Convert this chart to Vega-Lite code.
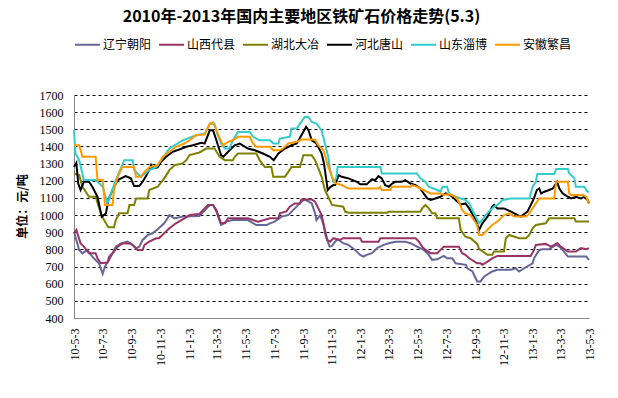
{
"$schema": "https://vega.github.io/schema/vega-lite/v6.json",
"width": 515, "height": 223,
"autosize": {"type": "none"},
"padding": {"left": 74, "top": 95, "right": 29, "bottom": 80},
"background": "white",
"title": {"text": "2010年-2013年国内主要地区铁矿石价格走势(5.3)", "font": "Noto Sans CJK SC", "fontSize": 16, "fontWeight": "bold", "color": "black", "anchor": "middle", "dx": -30, "offset": 6},
"config": {"view": {"stroke": null}},
"data": {"values": [
{"s":"辽宁朝阳","d":"2010-05-03","v":903},{"s":"辽宁朝阳","d":"2010-05-14","v":797},{"s":"辽宁朝阳","d":"2010-05-21","v":777},{"s":"辽宁朝阳","d":"2010-05-31","v":797},{"s":"辽宁朝阳","d":"2010-06-11","v":758},{"s":"辽宁朝阳","d":"2010-06-25","v":719},{"s":"辽宁朝阳","d":"2010-07-03","v":657},{"s":"辽宁朝阳","d":"2010-07-08","v":700},{"s":"辽宁朝阳","d":"2010-07-17","v":739},{"s":"辽宁朝阳","d":"2010-07-24","v":777},{"s":"辽宁朝阳","d":"2010-07-31","v":816},{"s":"辽宁朝阳","d":"2010-08-11","v":835},{"s":"辽宁朝阳","d":"2010-08-25","v":845},{"s":"辽宁朝阳","d":"2010-09-05","v":826},{"s":"辽宁朝阳","d":"2010-09-12","v":807},{"s":"辽宁朝阳","d":"2010-09-19","v":816},{"s":"辽宁朝阳","d":"2010-09-26","v":855},{"s":"辽宁朝阳","d":"2010-10-07","v":884},{"s":"辽宁朝阳","d":"2010-10-17","v":894},{"s":"辽宁朝阳","d":"2010-10-28","v":917},{"s":"辽宁朝阳","d":"2010-11-11","v":952},{"s":"辽宁朝阳","d":"2010-11-18","v":981},{"s":"辽宁朝阳","d":"2010-11-22","v":1000},{"s":"辽宁朝阳","d":"2010-12-03","v":981},{"s":"辽宁朝阳","d":"2010-12-20","v":991},{"s":"辽宁朝阳","d":"2011-01-25","v":995},{"s":"辽宁朝阳","d":"2011-02-16","v":1059},{"s":"辽宁朝阳","d":"2011-02-23","v":1059},{"s":"辽宁朝阳","d":"2011-03-02","v":1020},{"s":"辽宁朝阳","d":"2011-03-12","v":942},{"s":"辽宁朝阳","d":"2011-03-23","v":962},{"s":"辽宁朝阳","d":"2011-04-06","v":971},{"s":"辽宁朝阳","d":"2011-05-08","v":971},{"s":"辽宁朝阳","d":"2011-05-26","v":942},{"s":"辽宁朝阳","d":"2011-06-17","v":942},{"s":"辽宁朝阳","d":"2011-06-24","v":952},{"s":"辽宁朝阳","d":"2011-07-04","v":962},{"s":"辽宁朝阳","d":"2011-07-19","v":991},{"s":"辽宁朝阳","d":"2011-08-02","v":1000},{"s":"辽宁朝阳","d":"2011-08-16","v":1039},{"s":"辽宁朝阳","d":"2011-08-30","v":1078},{"s":"辽宁朝阳","d":"2011-09-06","v":1091},{"s":"辽宁朝阳","d":"2011-09-21","v":1068},{"s":"辽宁朝阳","d":"2011-09-28","v":1010},{"s":"辽宁朝阳","d":"2011-10-01","v":971},{"s":"辽宁朝阳","d":"2011-10-09","v":1000},{"s":"辽宁朝阳","d":"2011-10-16","v":942},{"s":"辽宁朝阳","d":"2011-10-21","v":874},{"s":"辽宁朝阳","d":"2011-10-29","v":816},{"s":"辽宁朝阳","d":"2011-11-03","v":820},{"s":"辽宁朝阳","d":"2011-11-10","v":845},{"s":"辽宁朝阳","d":"2011-11-15","v":859},{"s":"辽宁朝阳","d":"2011-11-27","v":836},{"s":"辽宁朝阳","d":"2011-12-08","v":826},{"s":"辽宁朝阳","d":"2011-12-22","v":797},{"s":"辽宁朝阳","d":"2012-01-02","v":768},{"s":"辽宁朝阳","d":"2012-01-09","v":758},{"s":"辽宁朝阳","d":"2012-01-16","v":768},{"s":"辽宁朝阳","d":"2012-01-27","v":778},{"s":"辽宁朝阳","d":"2012-02-07","v":807},{"s":"辽宁朝阳","d":"2012-02-21","v":826},{"s":"辽宁朝阳","d":"2012-03-03","v":836},{"s":"辽宁朝阳","d":"2012-03-17","v":845},{"s":"辽宁朝阳","d":"2012-04-07","v":845},{"s":"辽宁朝阳","d":"2012-04-18","v":836},{"s":"辽宁朝阳","d":"2012-05-02","v":816},{"s":"辽宁朝阳","d":"2012-05-16","v":797},{"s":"辽宁朝阳","d":"2012-05-27","v":768},{"s":"辽宁朝阳","d":"2012-06-03","v":739},{"s":"辽宁朝阳","d":"2012-06-14","v":742},{"s":"辽宁朝阳","d":"2012-06-28","v":762},{"s":"辽宁朝阳","d":"2012-07-05","v":748},{"s":"辽宁朝阳","d":"2012-07-16","v":748},{"s":"辽宁朝阳","d":"2012-07-23","v":719},{"s":"辽宁朝阳","d":"2012-08-14","v":710},{"s":"辽宁朝阳","d":"2012-08-17","v":690},{"s":"辽宁朝阳","d":"2012-08-28","v":671},{"s":"辽宁朝阳","d":"2012-09-07","v":613},{"s":"辽宁朝阳","d":"2012-09-14","v":613},{"s":"辽宁朝阳","d":"2012-09-22","v":642},{"s":"辽宁朝阳","d":"2012-10-09","v":671},{"s":"辽宁朝阳","d":"2012-10-20","v":681},{"s":"辽宁朝阳","d":"2012-11-18","v":681},{"s":"辽宁朝阳","d":"2012-11-28","v":690},{"s":"辽宁朝阳","d":"2012-12-05","v":671},{"s":"辽宁朝阳","d":"2012-12-16","v":690},{"s":"辽宁朝阳","d":"2013-01-03","v":719},{"s":"辽宁朝阳","d":"2013-01-06","v":748},{"s":"辽宁朝阳","d":"2013-01-17","v":797},{"s":"辽宁朝阳","d":"2013-01-24","v":801},{"s":"辽宁朝阳","d":"2013-02-07","v":801},{"s":"辽宁朝阳","d":"2013-02-22","v":826},{"s":"辽宁朝阳","d":"2013-03-01","v":816},{"s":"辽宁朝阳","d":"2013-03-08","v":797},{"s":"辽宁朝阳","d":"2013-03-19","v":758},{"s":"辽宁朝阳","d":"2013-04-27","v":758},{"s":"辽宁朝阳","d":"2013-05-03","v":739},
{"s":"山西代县","d":"2010-05-03","v":894},{"s":"山西代县","d":"2010-05-08","v":913},{"s":"山西代县","d":"2010-05-17","v":835},{"s":"山西代县","d":"2010-05-24","v":816},{"s":"山西代县","d":"2010-06-04","v":777},{"s":"山西代县","d":"2010-06-18","v":777},{"s":"山西代县","d":"2010-06-22","v":748},{"s":"山西代县","d":"2010-06-29","v":719},{"s":"山西代县","d":"2010-07-13","v":723},{"s":"山西代县","d":"2010-07-17","v":758},{"s":"山西代县","d":"2010-07-27","v":787},{"s":"山西代县","d":"2010-08-04","v":816},{"s":"山西代县","d":"2010-08-14","v":835},{"s":"山西代县","d":"2010-09-01","v":835},{"s":"山西代县","d":"2010-09-08","v":816},{"s":"山西代县","d":"2010-09-15","v":797},{"s":"山西代县","d":"2010-09-26","v":797},{"s":"山西代县","d":"2010-09-30","v":826},{"s":"山西代县","d":"2010-10-10","v":845},{"s":"山西代县","d":"2010-10-25","v":865},{"s":"山西代县","d":"2010-10-31","v":865},{"s":"山西代县","d":"2010-11-11","v":894},{"s":"山西代县","d":"2010-11-22","v":923},{"s":"山西代县","d":"2010-12-06","v":952},{"s":"山西代县","d":"2010-12-24","v":981},{"s":"山西代县","d":"2011-01-04","v":1000},{"s":"山西代县","d":"2011-01-25","v":1006},{"s":"山西代县","d":"2011-02-12","v":1059},{"s":"山西代县","d":"2011-02-23","v":1059},{"s":"山西代县","d":"2011-03-02","v":1030},{"s":"山西代县","d":"2011-03-12","v":952},{"s":"山西代县","d":"2011-03-20","v":952},{"s":"山西代县","d":"2011-03-27","v":981},{"s":"山西代县","d":"2011-05-08","v":981},{"s":"山西代县","d":"2011-05-19","v":971},{"s":"山西代县","d":"2011-05-30","v":962},{"s":"山西代县","d":"2011-06-24","v":981},{"s":"山西代县","d":"2011-07-12","v":981},{"s":"山西代县","d":"2011-07-15","v":1010},{"s":"山西代县","d":"2011-07-29","v":1021},{"s":"山西代县","d":"2011-08-05","v":1049},{"s":"山西代县","d":"2011-08-16","v":1068},{"s":"山西代县","d":"2011-08-27","v":1068},{"s":"山西代县","d":"2011-08-30","v":1091},{"s":"山西代县","d":"2011-09-21","v":1091},{"s":"山西代县","d":"2011-09-28","v":1078},{"s":"山西代县","d":"2011-10-05","v":1039},{"s":"山西代县","d":"2011-10-12","v":1000},{"s":"山西代县","d":"2011-10-19","v":913},{"s":"山西代县","d":"2011-10-24","v":855},{"s":"山西代县","d":"2011-10-30","v":845},{"s":"山西代县","d":"2011-11-06","v":865},{"s":"山西代县","d":"2011-11-20","v":855},{"s":"山西代县","d":"2011-11-27","v":865},{"s":"山西代县","d":"2012-01-02","v":865},{"s":"山西代县","d":"2012-01-06","v":845},{"s":"山西代县","d":"2012-02-10","v":845},{"s":"山西代县","d":"2012-02-14","v":865},{"s":"山西代县","d":"2012-04-29","v":865},{"s":"山西代县","d":"2012-05-06","v":845},{"s":"山西代县","d":"2012-05-13","v":816},{"s":"山西代县","d":"2012-05-20","v":797},{"s":"山西代县","d":"2012-05-31","v":778},{"s":"山西代县","d":"2012-06-14","v":778},{"s":"山西代县","d":"2012-06-21","v":797},{"s":"山西代县","d":"2012-06-28","v":816},{"s":"山西代县","d":"2012-07-30","v":816},{"s":"山西代县","d":"2012-08-06","v":778},{"s":"山西代县","d":"2012-08-13","v":768},{"s":"山西代县","d":"2012-08-21","v":748},{"s":"山西代县","d":"2012-09-07","v":719},{"s":"山西代县","d":"2012-09-14","v":719},{"s":"山西代县","d":"2012-09-18","v":710},{"s":"山西代县","d":"2012-09-29","v":729},{"s":"山西代县","d":"2012-10-09","v":748},{"s":"山西代县","d":"2012-10-20","v":762},{"s":"山西代县","d":"2012-12-30","v":762},{"s":"山西代县","d":"2013-01-06","v":797},{"s":"山西代县","d":"2013-01-10","v":826},{"s":"山西代县","d":"2013-01-31","v":832},{"s":"山西代县","d":"2013-02-11","v":816},{"s":"山西代县","d":"2013-02-25","v":836},{"s":"山西代县","d":"2013-03-04","v":816},{"s":"山西代县","d":"2013-03-19","v":787},{"s":"山西代县","d":"2013-04-05","v":787},{"s":"山西代县","d":"2013-04-16","v":807},{"s":"山西代县","d":"2013-04-27","v":801},{"s":"山西代县","d":"2013-05-03","v":807},
{"s":"湖北大冶","d":"2010-05-03","v":1243},{"s":"湖北大冶","d":"2010-05-14","v":1233},{"s":"湖北大冶","d":"2010-05-21","v":1165},{"s":"湖北大冶","d":"2010-06-04","v":1107},{"s":"湖北大冶","d":"2010-06-18","v":1107},{"s":"湖北大冶","d":"2010-06-29","v":1010},{"s":"湖北大冶","d":"2010-07-06","v":971},{"s":"湖北大冶","d":"2010-07-15","v":929},{"s":"湖北大冶","d":"2010-07-27","v":929},{"s":"湖北大冶","d":"2010-07-31","v":971},{"s":"湖北大冶","d":"2010-08-07","v":1010},{"s":"湖北大冶","d":"2010-08-25","v":1010},{"s":"湖北大冶","d":"2010-08-29","v":1059},{"s":"湖北大冶","d":"2010-09-08","v":1059},{"s":"湖北大冶","d":"2010-09-12","v":1097},{"s":"湖北大冶","d":"2010-10-07","v":1097},{"s":"湖北大冶","d":"2010-10-10","v":1146},{"s":"湖北大冶","d":"2010-10-28","v":1165},{"s":"湖北大冶","d":"2010-11-11","v":1214},{"s":"湖北大冶","d":"2010-11-22","v":1262},{"s":"湖北大冶","d":"2010-12-03","v":1291},{"s":"湖北大冶","d":"2010-12-20","v":1301},{"s":"湖北大冶","d":"2010-12-28","v":1320},{"s":"湖北大冶","d":"2011-01-04","v":1350},{"s":"湖北大冶","d":"2011-01-25","v":1365},{"s":"湖北大冶","d":"2011-02-08","v":1388},{"s":"湖北大冶","d":"2011-02-26","v":1388},{"s":"湖北大冶","d":"2011-03-09","v":1340},{"s":"湖北大冶","d":"2011-03-20","v":1320},{"s":"湖北大冶","d":"2011-04-06","v":1320},{"s":"湖北大冶","d":"2011-04-10","v":1340},{"s":"湖北大冶","d":"2011-04-17","v":1359},{"s":"湖北大冶","d":"2011-05-26","v":1359},{"s":"湖北大冶","d":"2011-06-02","v":1320},{"s":"湖北大冶","d":"2011-06-13","v":1281},{"s":"湖北大冶","d":"2011-06-27","v":1281},{"s":"湖北大冶","d":"2011-07-01","v":1223},{"s":"湖北大冶","d":"2011-07-26","v":1223},{"s":"湖北大冶","d":"2011-08-02","v":1252},{"s":"湖北大冶","d":"2011-08-09","v":1281},{"s":"湖北大冶","d":"2011-08-27","v":1281},{"s":"湖北大冶","d":"2011-09-03","v":1349},{"s":"湖北大冶","d":"2011-09-21","v":1349},{"s":"湖北大冶","d":"2011-09-28","v":1320},{"s":"湖北大冶","d":"2011-10-05","v":1272},{"s":"湖北大冶","d":"2011-10-12","v":1223},{"s":"湖北大冶","d":"2011-10-19","v":1146},{"s":"湖北大冶","d":"2011-10-26","v":1107},{"s":"湖北大冶","d":"2011-11-03","v":1059},{"s":"湖北大冶","d":"2011-11-27","v":1049},{"s":"湖北大冶","d":"2011-12-01","v":1020},{"s":"湖北大冶","d":"2011-12-08","v":1014},{"s":"湖北大冶","d":"2012-02-28","v":1014},{"s":"湖北大冶","d":"2012-03-03","v":1020},{"s":"湖北大冶","d":"2012-05-09","v":1020},{"s":"湖北大冶","d":"2012-05-13","v":1039},{"s":"湖北大冶","d":"2012-05-20","v":1059},{"s":"湖北大冶","d":"2012-05-27","v":1039},{"s":"湖北大冶","d":"2012-06-03","v":1010},{"s":"湖北大冶","d":"2012-06-10","v":1010},{"s":"湖北大冶","d":"2012-06-14","v":981},{"s":"湖北大冶","d":"2012-07-30","v":981},{"s":"湖北大冶","d":"2012-08-03","v":913},{"s":"湖北大冶","d":"2012-08-13","v":874},{"s":"湖北大冶","d":"2012-08-24","v":865},{"s":"湖北大冶","d":"2012-09-07","v":832},{"s":"湖北大冶","d":"2012-09-11","v":803},{"s":"湖北大冶","d":"2012-09-29","v":768},{"s":"湖北大冶","d":"2012-10-09","v":768},{"s":"湖北大冶","d":"2012-10-13","v":787},{"s":"湖北大冶","d":"2012-11-03","v":787},{"s":"湖北大冶","d":"2012-11-07","v":865},{"s":"湖北大冶","d":"2012-11-14","v":884},{"s":"湖北大冶","d":"2012-12-05","v":865},{"s":"湖北大冶","d":"2012-12-20","v":865},{"s":"湖北大冶","d":"2012-12-27","v":884},{"s":"湖北大冶","d":"2013-01-03","v":923},{"s":"湖北大冶","d":"2013-01-10","v":942},{"s":"湖北大冶","d":"2013-01-31","v":952},{"s":"湖北大冶","d":"2013-02-07","v":981},{"s":"湖北大冶","d":"2013-04-02","v":981},{"s":"湖北大冶","d":"2013-04-05","v":962},{"s":"湖北大冶","d":"2013-05-03","v":962},
{"s":"河北唐山","d":"2010-05-03","v":1281},{"s":"河北唐山","d":"2010-05-08","v":1305},{"s":"河北唐山","d":"2010-05-12","v":1184},{"s":"河北唐山","d":"2010-05-17","v":1146},{"s":"河北唐山","d":"2010-05-24","v":1194},{"s":"河北唐山","d":"2010-06-04","v":1194},{"s":"河北唐山","d":"2010-06-11","v":1165},{"s":"河北唐山","d":"2010-06-22","v":1107},{"s":"河北唐山","d":"2010-06-25","v":1068},{"s":"河北唐山","d":"2010-07-01","v":991},{"s":"河北唐山","d":"2010-07-10","v":1010},{"s":"河北唐山","d":"2010-07-15","v":1088},{"s":"河北唐山","d":"2010-07-24","v":1146},{"s":"河北唐山","d":"2010-08-04","v":1204},{"s":"河北唐山","d":"2010-08-21","v":1227},{"s":"河北唐山","d":"2010-09-01","v":1214},{"s":"河北唐山","d":"2010-09-08","v":1169},{"s":"河北唐山","d":"2010-09-19","v":1169},{"s":"河北唐山","d":"2010-09-26","v":1194},{"s":"河北唐山","d":"2010-10-03","v":1227},{"s":"河北唐山","d":"2010-10-10","v":1262},{"s":"河北唐山","d":"2010-10-14","v":1291},{"s":"河北唐山","d":"2010-10-17","v":1272},{"s":"河北唐山","d":"2010-10-28","v":1278},{"s":"河北唐山","d":"2010-11-04","v":1310},{"s":"河北唐山","d":"2010-11-15","v":1340},{"s":"河北唐山","d":"2010-11-29","v":1369},{"s":"河北唐山","d":"2010-12-13","v":1382},{"s":"河北唐山","d":"2010-12-28","v":1398},{"s":"河北唐山","d":"2011-01-11","v":1407},{"s":"河北唐山","d":"2011-01-29","v":1421},{"s":"河北唐山","d":"2011-02-05","v":1417},{"s":"河北唐山","d":"2011-02-16","v":1494},{"s":"河北唐山","d":"2011-02-23","v":1494},{"s":"河北唐山","d":"2011-03-02","v":1436},{"s":"河北唐山","d":"2011-03-12","v":1349},{"s":"河北唐山","d":"2011-03-17","v":1340},{"s":"河北唐山","d":"2011-03-27","v":1369},{"s":"河北唐山","d":"2011-04-10","v":1407},{"s":"河北唐山","d":"2011-04-21","v":1417},{"s":"河北唐山","d":"2011-05-08","v":1388},{"s":"河北唐山","d":"2011-05-23","v":1378},{"s":"河北唐山","d":"2011-06-09","v":1359},{"s":"河北唐山","d":"2011-06-24","v":1340},{"s":"河北唐山","d":"2011-07-02","v":1320},{"s":"河北唐山","d":"2011-07-12","v":1359},{"s":"河北唐山","d":"2011-07-26","v":1388},{"s":"河北唐山","d":"2011-08-09","v":1407},{"s":"河北唐山","d":"2011-08-20","v":1417},{"s":"河北唐山","d":"2011-08-30","v":1466},{"s":"河北唐山","d":"2011-09-09","v":1514},{"s":"河北唐山","d":"2011-09-14","v":1495},{"s":"河北唐山","d":"2011-09-21","v":1436},{"s":"河北唐山","d":"2011-10-01","v":1417},{"s":"河北唐山","d":"2011-10-12","v":1359},{"s":"河北唐山","d":"2011-10-17","v":1301},{"s":"河北唐山","d":"2011-10-25","v":1146},{"s":"河北唐山","d":"2011-10-31","v":1165},{"s":"河北唐山","d":"2011-11-06","v":1175},{"s":"河北唐山","d":"2011-11-10","v":1175},{"s":"河北唐山","d":"2011-11-17","v":1233},{"s":"河北唐山","d":"2011-11-24","v":1223},{"s":"河北唐山","d":"2011-12-08","v":1214},{"s":"河北唐山","d":"2011-12-26","v":1194},{"s":"河北唐山","d":"2012-01-02","v":1179},{"s":"河北唐山","d":"2012-01-16","v":1179},{"s":"河北唐山","d":"2012-01-27","v":1208},{"s":"河北唐山","d":"2012-02-03","v":1204},{"s":"河北唐山","d":"2012-02-10","v":1227},{"s":"河北唐山","d":"2012-02-17","v":1214},{"s":"河北唐山","d":"2012-02-24","v":1175},{"s":"河北唐山","d":"2012-03-03","v":1165},{"s":"河北唐山","d":"2012-03-10","v":1184},{"s":"河北唐山","d":"2012-03-17","v":1194},{"s":"河北唐山","d":"2012-03-31","v":1194},{"s":"河北唐山","d":"2012-04-07","v":1204},{"s":"河北唐山","d":"2012-04-18","v":1184},{"s":"河北唐山","d":"2012-04-29","v":1175},{"s":"河北唐山","d":"2012-05-09","v":1155},{"s":"河北唐山","d":"2012-05-16","v":1126},{"s":"河北唐山","d":"2012-05-24","v":1097},{"s":"河北唐山","d":"2012-05-31","v":1088},{"s":"河北唐山","d":"2012-06-10","v":1097},{"s":"河北唐山","d":"2012-06-21","v":1107},{"s":"河北唐山","d":"2012-07-02","v":1126},{"s":"河北唐山","d":"2012-07-12","v":1117},{"s":"河北唐山","d":"2012-07-23","v":1088},{"s":"河北唐山","d":"2012-08-03","v":1062},{"s":"河北唐山","d":"2012-08-13","v":1068},{"s":"河北唐山","d":"2012-08-21","v":1039},{"s":"河北唐山","d":"2012-08-28","v":1005},{"s":"河北唐山","d":"2012-09-04","v":971},{"s":"河北唐山","d":"2012-09-11","v":913},{"s":"河北唐山","d":"2012-09-18","v":952},{"s":"河北唐山","d":"2012-09-29","v":991},{"s":"河北唐山","d":"2012-10-09","v":1049},{"s":"河北唐山","d":"2012-10-13","v":1059},{"s":"河北唐山","d":"2012-10-20","v":1039},{"s":"河北唐山","d":"2012-11-03","v":1039},{"s":"河北唐山","d":"2012-11-18","v":1020},{"s":"河北唐山","d":"2012-12-02","v":1000},{"s":"河北唐山","d":"2012-12-09","v":991},{"s":"河北唐山","d":"2012-12-16","v":1006},{"s":"河北唐山","d":"2012-12-23","v":1020},{"s":"河北唐山","d":"2012-12-30","v":1059},{"s":"河北唐山","d":"2013-01-06","v":1097},{"s":"河北唐山","d":"2013-01-12","v":1146},{"s":"河北唐山","d":"2013-01-17","v":1155},{"s":"河北唐山","d":"2013-01-21","v":1126},{"s":"河北唐山","d":"2013-01-28","v":1136},{"s":"河北唐山","d":"2013-02-07","v":1146},{"s":"河北唐山","d":"2013-02-15","v":1155},{"s":"河北唐山","d":"2013-02-24","v":1194},{"s":"河北唐山","d":"2013-03-01","v":1155},{"s":"河北唐山","d":"2013-03-08","v":1126},{"s":"河北唐山","d":"2013-03-19","v":1107},{"s":"河北唐山","d":"2013-03-26","v":1097},{"s":"河北唐山","d":"2013-04-05","v":1107},{"s":"河北唐山","d":"2013-04-16","v":1097},{"s":"河北唐山","d":"2013-04-23","v":1107},{"s":"河北唐山","d":"2013-04-30","v":1088},{"s":"河北唐山","d":"2013-05-03","v":1068},
{"s":"山东淄博","d":"2010-05-03","v":1495},{"s":"山东淄博","d":"2010-05-06","v":1360},{"s":"山东淄博","d":"2010-05-14","v":1320},{"s":"山东淄博","d":"2010-05-24","v":1204},{"s":"山东淄博","d":"2010-06-18","v":1204},{"s":"山东淄博","d":"2010-07-03","v":1165},{"s":"山东淄博","d":"2010-07-13","v":1068},{"s":"山东淄博","d":"2010-07-31","v":1204},{"s":"山东淄博","d":"2010-08-18","v":1320},{"s":"山东淄博","d":"2010-09-05","v":1320},{"s":"山东淄博","d":"2010-09-08","v":1262},{"s":"山东淄博","d":"2010-09-22","v":1223},{"s":"山东淄博","d":"2010-10-10","v":1262},{"s":"山东淄博","d":"2010-10-25","v":1281},{"s":"山东淄博","d":"2010-11-22","v":1388},{"s":"山东淄博","d":"2010-12-20","v":1436},{"s":"山东淄博","d":"2011-01-18","v":1465},{"s":"山东淄博","d":"2011-02-05","v":1475},{"s":"山东淄博","d":"2011-02-16","v":1533},{"s":"山东淄博","d":"2011-02-26","v":1533},{"s":"山东淄博","d":"2011-03-05","v":1465},{"s":"山东淄博","d":"2011-03-12","v":1417},{"s":"山东淄博","d":"2011-03-20","v":1388},{"s":"山东淄博","d":"2011-03-30","v":1388},{"s":"山东淄博","d":"2011-04-06","v":1436},{"s":"山东淄博","d":"2011-04-17","v":1485},{"s":"山东淄博","d":"2011-05-12","v":1485},{"s":"山东淄博","d":"2011-05-19","v":1456},{"s":"山东淄博","d":"2011-06-02","v":1436},{"s":"山东淄博","d":"2011-06-24","v":1436},{"s":"山东淄博","d":"2011-07-01","v":1417},{"s":"山东淄博","d":"2011-07-12","v":1417},{"s":"山东淄博","d":"2011-07-15","v":1446},{"s":"山东淄博","d":"2011-08-05","v":1456},{"s":"山东淄博","d":"2011-08-09","v":1504},{"s":"山东淄博","d":"2011-08-20","v":1504},{"s":"山东淄博","d":"2011-08-27","v":1533},{"s":"山东淄博","d":"2011-09-06","v":1572},{"s":"山东淄博","d":"2011-09-14","v":1572},{"s":"山东淄博","d":"2011-09-21","v":1543},{"s":"山东淄博","d":"2011-10-01","v":1533},{"s":"山东淄博","d":"2011-10-12","v":1494},{"s":"山东淄博","d":"2011-10-19","v":1417},{"s":"山东淄博","d":"2011-10-26","v":1340},{"s":"山东淄博","d":"2011-10-30","v":1262},{"s":"山东淄博","d":"2011-11-06","v":1194},{"s":"山东淄博","d":"2011-11-12","v":1214},{"s":"山东淄博","d":"2011-11-15","v":1281},{"s":"山东淄博","d":"2012-02-14","v":1281},{"s":"山东淄博","d":"2012-02-17","v":1243},{"s":"山东淄博","d":"2012-05-02","v":1243},{"s":"山东淄博","d":"2012-05-09","v":1214},{"s":"山东淄博","d":"2012-05-20","v":1194},{"s":"山东淄博","d":"2012-05-27","v":1165},{"s":"山东淄博","d":"2012-06-14","v":1146},{"s":"山东淄博","d":"2012-06-21","v":1136},{"s":"山东淄博","d":"2012-06-25","v":1165},{"s":"山东淄博","d":"2012-07-05","v":1165},{"s":"山东淄博","d":"2012-07-09","v":1126},{"s":"山东淄博","d":"2012-07-23","v":1107},{"s":"山东淄博","d":"2012-08-03","v":1097},{"s":"山东淄博","d":"2012-08-13","v":1088},{"s":"山东淄博","d":"2012-08-21","v":1068},{"s":"山东淄博","d":"2012-08-28","v":1030},{"s":"山东淄博","d":"2012-09-04","v":991},{"s":"山东淄博","d":"2012-09-11","v":952},{"s":"山东淄博","d":"2012-09-18","v":971},{"s":"山东淄博","d":"2012-09-25","v":1000},{"s":"山东淄博","d":"2012-10-02","v":1020},{"s":"山东淄博","d":"2012-10-13","v":1049},{"s":"山东淄博","d":"2012-10-20","v":1059},{"s":"山东淄博","d":"2012-10-31","v":1088},{"s":"山东淄博","d":"2012-11-18","v":1097},{"s":"山东淄博","d":"2012-12-27","v":1097},{"s":"山东淄博","d":"2012-12-30","v":1126},{"s":"山东淄博","d":"2013-01-03","v":1165},{"s":"山东淄博","d":"2013-01-10","v":1194},{"s":"山东淄博","d":"2013-01-13","v":1239},{"s":"山东淄博","d":"2013-02-18","v":1239},{"s":"山东淄博","d":"2013-02-22","v":1268},{"s":"山东淄博","d":"2013-03-19","v":1268},{"s":"山东淄博","d":"2013-03-22","v":1243},{"s":"山东淄博","d":"2013-04-02","v":1214},{"s":"山东淄博","d":"2013-04-05","v":1165},{"s":"山东淄博","d":"2013-04-23","v":1165},{"s":"山东淄博","d":"2013-04-30","v":1136},{"s":"山东淄博","d":"2013-05-03","v":1136},
{"s":"安徽繁昌","d":"2010-05-03","v":1407},{"s":"安徽繁昌","d":"2010-05-14","v":1407},{"s":"安徽繁昌","d":"2010-05-21","v":1340},{"s":"安徽繁昌","d":"2010-06-18","v":1340},{"s":"安徽繁昌","d":"2010-06-22","v":1204},{"s":"安徽繁昌","d":"2010-07-03","v":1204},{"s":"安徽繁昌","d":"2010-07-08","v":1059},{"s":"安徽繁昌","d":"2010-07-24","v":1059},{"s":"安徽繁昌","d":"2010-07-27","v":1146},{"s":"安徽繁昌","d":"2010-08-04","v":1223},{"s":"安徽繁昌","d":"2010-08-14","v":1281},{"s":"安徽繁昌","d":"2010-09-08","v":1281},{"s":"安徽繁昌","d":"2010-09-12","v":1223},{"s":"安徽繁昌","d":"2010-09-22","v":1223},{"s":"安徽繁昌","d":"2010-09-30","v":1252},{"s":"安徽繁昌","d":"2010-10-10","v":1278},{"s":"安徽繁昌","d":"2010-10-28","v":1291},{"s":"安徽繁昌","d":"2010-11-08","v":1340},{"s":"安徽繁昌","d":"2010-11-22","v":1369},{"s":"安徽繁昌","d":"2010-12-06","v":1398},{"s":"安徽繁昌","d":"2010-12-24","v":1417},{"s":"安徽繁昌","d":"2011-01-04","v":1436},{"s":"安徽繁昌","d":"2011-01-18","v":1465},{"s":"安徽繁昌","d":"2011-02-05","v":1470},{"s":"安徽繁昌","d":"2011-02-16","v":1533},{"s":"安徽繁昌","d":"2011-02-23","v":1540},{"s":"安徽繁昌","d":"2011-03-05","v":1475},{"s":"安徽繁昌","d":"2011-03-16","v":1407},{"s":"安徽繁昌","d":"2011-03-27","v":1427},{"s":"安徽繁昌","d":"2011-04-06","v":1436},{"s":"安徽繁昌","d":"2011-04-17","v":1456},{"s":"安徽繁昌","d":"2011-05-12","v":1456},{"s":"安徽繁昌","d":"2011-05-19","v":1417},{"s":"安徽繁昌","d":"2011-05-26","v":1398},{"s":"安徽繁昌","d":"2011-06-24","v":1398},{"s":"安徽繁昌","d":"2011-07-01","v":1378},{"s":"安徽繁昌","d":"2011-07-15","v":1378},{"s":"安徽繁昌","d":"2011-07-22","v":1388},{"s":"安徽繁昌","d":"2011-08-02","v":1417},{"s":"安徽繁昌","d":"2011-08-20","v":1427},{"s":"安徽繁昌","d":"2011-08-30","v":1440},{"s":"安徽繁昌","d":"2011-09-28","v":1440},{"s":"安徽繁昌","d":"2011-10-05","v":1407},{"s":"安徽繁昌","d":"2011-10-16","v":1378},{"s":"安徽繁昌","d":"2011-10-26","v":1281},{"s":"安徽繁昌","d":"2011-11-06","v":1204},{"s":"安徽繁昌","d":"2011-11-12","v":1184},{"s":"安徽繁昌","d":"2011-11-24","v":1175},{"s":"安徽繁昌","d":"2011-12-01","v":1165},{"s":"安徽繁昌","d":"2011-12-08","v":1155},{"s":"安徽繁昌","d":"2012-02-10","v":1155},{"s":"安徽繁昌","d":"2012-02-14","v":1165},{"s":"安徽繁昌","d":"2012-02-17","v":1146},{"s":"安徽繁昌","d":"2012-03-06","v":1146},{"s":"安徽繁昌","d":"2012-03-10","v":1165},{"s":"安徽繁昌","d":"2012-04-18","v":1165},{"s":"安徽繁昌","d":"2012-04-21","v":1175},{"s":"安徽繁昌","d":"2012-05-02","v":1165},{"s":"安徽繁昌","d":"2012-05-09","v":1155},{"s":"安徽繁昌","d":"2012-05-16","v":1146},{"s":"安徽繁昌","d":"2012-05-31","v":1126},{"s":"安徽繁昌","d":"2012-06-21","v":1126},{"s":"安徽繁昌","d":"2012-06-28","v":1117},{"s":"安徽繁昌","d":"2012-07-09","v":1122},{"s":"安徽繁昌","d":"2012-07-23","v":1107},{"s":"安徽繁昌","d":"2012-07-30","v":1078},{"s":"安徽繁昌","d":"2012-08-06","v":1030},{"s":"安徽繁昌","d":"2012-08-13","v":1010},{"s":"安徽繁昌","d":"2012-08-24","v":1000},{"s":"安徽繁昌","d":"2012-08-31","v":971},{"s":"安徽繁昌","d":"2012-09-07","v":942},{"s":"安徽繁昌","d":"2012-09-11","v":884},{"s":"安徽繁昌","d":"2012-09-18","v":884},{"s":"安徽繁昌","d":"2012-09-25","v":903},{"s":"安徽繁昌","d":"2012-10-02","v":923},{"s":"安徽繁昌","d":"2012-10-09","v":942},{"s":"安徽繁昌","d":"2012-10-20","v":962},{"s":"安徽繁昌","d":"2012-10-27","v":981},{"s":"安徽繁昌","d":"2012-11-03","v":1000},{"s":"安徽繁昌","d":"2012-11-14","v":1010},{"s":"安徽繁昌","d":"2012-11-25","v":991},{"s":"安徽繁昌","d":"2012-12-20","v":991},{"s":"安徽繁昌","d":"2012-12-27","v":1010},{"s":"安徽繁昌","d":"2013-01-03","v":1040},{"s":"安徽繁昌","d":"2013-01-10","v":1068},{"s":"安徽繁昌","d":"2013-01-17","v":1097},{"s":"安徽繁昌","d":"2013-02-18","v":1097},{"s":"安徽繁昌","d":"2013-02-22","v":1194},{"s":"安徽繁昌","d":"2013-03-19","v":1194},{"s":"安徽繁昌","d":"2013-03-22","v":1126},{"s":"安徽繁昌","d":"2013-03-26","v":1117},{"s":"安徽繁昌","d":"2013-04-20","v":1117},{"s":"安徽繁昌","d":"2013-04-27","v":1107},{"s":"安徽繁昌","d":"2013-05-03","v":1068}
]},
"mark": {"type": "line", "strokeWidth": 2, "interpolate": "linear"},
"encoding": {
  "x": {"field": "d", "type": "temporal",
    "scale": {"type": "utc", "domain": [{"year": 2010, "month": 5, "date": 3, "utc": true}, {"year": 2013, "month": 5, "date": 3, "utc": true}]},
    "axis": {"title": null, "format": "%y-%-m-%-d", "labelAngle": 270, "labelFont": "Liberation Serif", "labelFontSize": 12, "labelColor": "black", "labelPadding": 10, "ticks": false, "grid": false, "domainColor": "#868686", "domainWidth": 1, "labelOverlap": false,
      "values": [
        {"year": 2010, "month": 5, "date": 3, "utc": true}, {"year": 2010, "month": 7, "date": 3, "utc": true}, {"year": 2010, "month": 9, "date": 3, "utc": true}, {"year": 2010, "month": 11, "date": 3, "utc": true},
        {"year": 2011, "month": 1, "date": 3, "utc": true}, {"year": 2011, "month": 3, "date": 3, "utc": true}, {"year": 2011, "month": 5, "date": 3, "utc": true}, {"year": 2011, "month": 7, "date": 3, "utc": true}, {"year": 2011, "month": 9, "date": 3, "utc": true}, {"year": 2011, "month": 11, "date": 3, "utc": true},
        {"year": 2012, "month": 1, "date": 3, "utc": true}, {"year": 2012, "month": 3, "date": 3, "utc": true}, {"year": 2012, "month": 5, "date": 3, "utc": true}, {"year": 2012, "month": 7, "date": 3, "utc": true}, {"year": 2012, "month": 9, "date": 3, "utc": true}, {"year": 2012, "month": 11, "date": 3, "utc": true},
        {"year": 2013, "month": 1, "date": 3, "utc": true}, {"year": 2013, "month": 3, "date": 3, "utc": true}, {"year": 2013, "month": 5, "date": 3, "utc": true}
      ]}},
  "y": {"field": "v", "type": "quantitative",
    "scale": {"domain": [400, 1700], "nice": false, "zero": false},
    "axis": {"title": "单位：元/吨", "titleFont": "Noto Sans CJK SC", "titleFontSize": 12, "titleFontWeight": "bold", "titleColor": "black", "titleX": -52, "titleY": 111, "titleAlign": "center", "titleBaseline": "middle", "titleAngle": 270,
      "values": [400,500,600,700,800,900,1000,1100,1200,1300,1400,1500,1600,1700], "format": "d",
      "labelFont": "Liberation Serif", "labelFontSize": 12, "labelColor": "black", "labelPadding": 11, "ticks": false,
      "domainColor": "#868686", "domainWidth": 1,
      "grid": true, "gridColor": "black", "gridDash": [3, 3], "gridWidth": 1, "gridOpacity": 1}},
  "color": {"field": "s", "type": "nominal",
    "scale": {"domain": ["辽宁朝阳","山西代县","湖北大冶","河北唐山","山东淄博","安徽繁昌"], "range": ["#666699","#993366","#808000","#000000","#33CCCC","#FF9900"]},
    "legend": {"title": null, "orient": "none", "legendX": 0, "legendY": -64, "direction": "horizontal", "columns": 6, "symbolType": "stroke", "symbolSize": 625, "symbolStrokeWidth": 2, "labelFont": "Noto Sans CJK SC", "labelFontSize": 12, "labelColor": "black", "labelOffset": 2, "columnPadding": 3, "padding": 0}}
}
}
